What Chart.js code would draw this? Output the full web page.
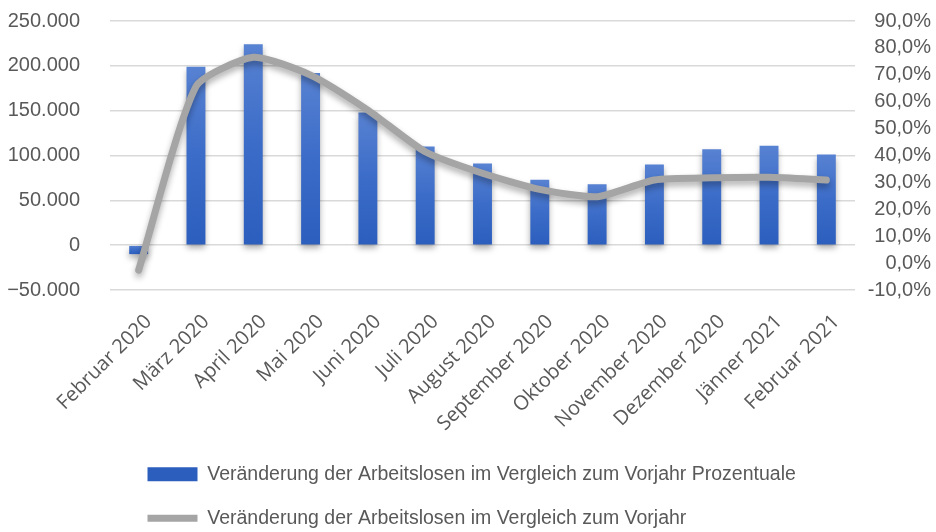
<!DOCTYPE html>
<html>
<head>
<meta charset="utf-8">
<script src="https://cdn.jsdelivr.net/npm/chart.js@4/dist/chart.umd.min.js"></script>
<style>
  html, body { margin: 0; padding: 0; background: #fff; overflow: hidden; }
  #wrap { width: 936px; height: 532px; }
</style>
</head>
<body>
<div id="wrap"><canvas id="myChart"></canvas></div>
<script>
const months = ['Februar 2020', 'März 2020', 'April 2020', 'Mai 2020', 'Juni 2020', 'Juli 2020',
  'August 2020', 'September 2020', 'Oktober 2020', 'November 2020', 'Dezember 2020', 'Jänner 2021', 'Februar 2021'];
const absChange = [-10000, 199000, 224000, 192000, 148000, 110000, 91000, 73000, 68000, 90000, 107000, 111000, 101000];
const pctChange = [-2.6, 65.6, 76.5, 69.9, 56.9, 41.4, 33.4, 27.4, 24.7, 30.9, 31.7, 31.9, 30.9];
const barLabel = 'Veränderung der Arbeitslosen im Vergleich zum Vorjahr Prozentuale';
const lineLabel = 'Veränderung der Arbeitslosen im Vergleich zum Vorjahr';
const leftMin = -50000, leftMax = 250000, leftStep = 50000;
const rightMin = -10, rightMax = 90, rightStep = 10;

const textColor = '#595959';

function barFill(ctx) {
    const chart = ctx.chart;
    if (!chart.chartArea || ctx.type !== 'data') return '#3a6bc8';
    const y = chart.scales.y;
    const v = ctx.parsed ? ctx.parsed.y : 0;
    const top = y.getPixelForValue(Math.max(v, 0));
    const bottom = y.getPixelForValue(Math.min(v, 0));
    if (!isFinite(top) || !isFinite(bottom) || top === bottom) return '#3a6bc8';
    const g = chart.ctx.createLinearGradient(0, top, 0, bottom);
    g.addColorStop(0, '#5882d2');
    g.addColorStop(0.5, '#3b6cc8');
    g.addColorStop(1, '#2c5ebe');
    return g;
}

// soft shadow under bars and line like the office chart
const shadowPlugin = {
    id: 'shadow',
    beforeDatasetDraw(chart) {
        const c = chart.ctx;
        c.save();
        c.shadowColor = 'rgba(0,0,0,0.32)';
        c.shadowBlur = 6;
        c.shadowOffsetY = 4;
    },
    afterDatasetDraw(chart) {
        chart.ctx.restore();
    }
};

// push legend rows to the same left edge as the original
const legendShift = {
    id: 'legendShift',
    afterLayout(chart) {
        const lg = chart.legend;
        lg.left += 123;
        lg.right += 123;
        lg.top += 6;
        lg.bottom += 6;
    }
};

const data = {
    labels: months,
    datasets: [{
        type: 'bar',
        label: barLabel,
        data: absChange,
        yAxisID: 'y',
        backgroundColor: barFill,
        borderWidth: 0,
        categoryPercentage: 1,
        barPercentage: 0.33,
        pointStyle: 'rect',
        order: 1
    }, {
        type: 'line',
        label: lineLabel,
        data: pctChange,
        yAxisID: 'y1',
        borderColor: '#a5a5a5',
        backgroundColor: '#a5a5a5',
        borderWidth: 7,
        borderCapStyle: 'round',
        borderJoinStyle: 'round',
        pointRadius: 0,
        pointHoverRadius: 0,
        pointStyle: 'line',
        tension: 0.2,
        order: 0
    }]
};

const config = {
    type: 'bar',
    data: data,
    plugins: [shadowPlugin, legendShift],
    options: {
        responsive: true,
        maintainAspectRatio: false,
        animation: false,
        layout: { padding: { top: 21, left: 0, right: 5, bottom: 0 } },
        plugins: {
            tooltip: { enabled: false },
            legend: {
                position: 'bottom',
                align: 'start',
                labels: {
                    usePointStyle: true,
                    pointStyleWidth: 50,
                    boxHeight: 14,
                    padding: 24.5,
                    color: textColor,
                    font: { family: "'Liberation Sans', Arial, sans-serif", size: 19.5 },
                    sort: (a, b) => a.datasetIndex - b.datasetIndex
                }
            }
        },
        scales: {
            x: {
                offset: true,
                grid: { display: false },
                border: { display: false },
                ticks: {
                    autoSkip: false,
                    minRotation: 45,
                    maxRotation: 45,
                    padding: 12,
                    labelOffset: 10,
                    color: textColor,
                    font: { family: "'Open Sans', sans-serif", size: 20 }
                },
                afterFit: (scale) => { scale.height = 144; }
            },
            y: {
                position: 'left',
                min: leftMin,
                max: leftMax,
                // invisible ticks give the gap between labels and grid
                grid: { color: '#d9d9d9', lineWidth: 1.5, drawTicks: true, tickLength: 30, tickColor: 'rgba(0,0,0,0)' },
                border: { display: false },
                ticks: {
                    stepSize: leftStep,
                    padding: 0,
                    color: textColor,
                    font: { family: "'Liberation Sans', Arial, sans-serif", size: 20 },
                    callback: (v) => {
                        if (v === 0) return '0';
                        const s = Math.abs(v).toLocaleString('de-DE');
                        return v < 0 ? '\u2212' + s : s;
                    }
                },
                afterFit: (scale) => { scale.width = 110; }
            },
            y1: {
                position: 'right',
                min: rightMin,
                max: rightMax,
                grid: { display: false, drawTicks: true, tickLength: 5 },
                border: { display: false },
                ticks: {
                    stepSize: rightStep,
                    autoSkip: false,
                    padding: 0,
                    crossAlign: 'far',
                    color: textColor,
                    font: { family: "'Liberation Sans', Arial, sans-serif", size: 20 },
                    callback: (v) => v.toFixed(1).replace('.', ',') + '%'
                },
                afterFit: (scale) => { scale.width = 76; }
            }
        }
    }
};

const myChart = new Chart(document.getElementById('myChart'), config);
</script>
</body>
</html>
